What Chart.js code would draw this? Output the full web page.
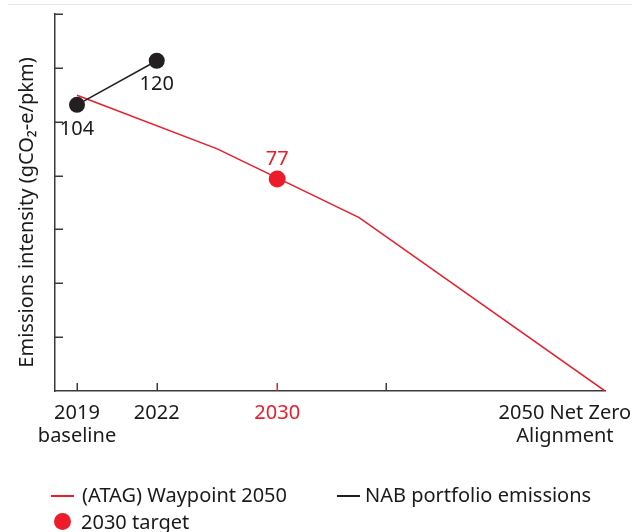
<!DOCTYPE html>
<html>
<head>
<meta charset="utf-8">
<script src="https://cdn.jsdelivr.net/npm/chart.js@4.4.1/dist/chart.umd.min.js"></script>
<style>
html,body{margin:0;padding:0;background:#fff;}
#wrap{position:relative;width:632px;height:532px;overflow:hidden;font-family:"Noto Sans", sans-serif;}
#topline{position:absolute;left:8px;right:0;top:4px;height:0;border-top:1px solid #e6e6e6;}
#chart{position:absolute;left:0;top:0;}
.leg{position:absolute;font-size:20px;color:#1a1a1a;white-space:nowrap;height:24px;line-height:24px;}
.leg .mk{position:absolute;}
</style>
</head>
<body>
<div id="wrap">
  <div id="topline"></div>
  <canvas id="chart" width="632" height="532"></canvas>
  <div id="legend"></div>
</div>
<script>
// ---- data ----
const xTickLabels = [['2019', 'baseline'], '2022', '2030', '', ['2050 Net Zero', 'Alignment']];
const xTickPositions = [4, 18.5, 40.4, 60.2, 92.7];      // position along the x axis (0-100)
const xTickMarkPositions = [4, 18.5, 40.4, 60.2];
const highlightedTick = '2030';

const atagLabel = '(ATAG) Waypoint 2050';
const atagPositions = [4, 29.5, 55.3, 100];
const atagValues = [107.5, 88, 63, 0];

const nabLabel = 'NAB portfolio emissions';
const nabPositions = [4, 18.5];
const nabValues = [104, 120];

const targetLabel = '2030 target';
const targetPositions = [40.4];
const targetValues = [77];

const yTitle = 'Emissions intensity (gCO\u2082-e/pkm)';
const yMin = 0, yMax = 137, yTickCount = 8;

// ---- style ----
const RED = '#ec1c2a';
const BLACK = '#231f20';
const TEXT = '#1a1a1a';
const AXIS = '#3a3a3a';
const FONT = '"Noto Sans", sans-serif';
const FS = 20;

const toXY = (xs, ys) => xs.map((x, i) => ({x: x, y: ys[i]}));

const customDraw = {
  id: 'customDraw',
  afterDatasetsDraw(chart) {
    const ctx = chart.ctx;
    const xs = chart.scales.x, ys = chart.scales.y;
    const area = chart.chartArea;
    ctx.save();
    // inward tick marks
    ctx.lineWidth = 1.5;
    ys.ticks.forEach(t => {
      if (t.value === yMin) return;
      const py = Math.round(ys.getPixelForValue(t.value)) + 0.25;
      ctx.strokeStyle = AXIS;
      ctx.beginPath(); ctx.moveTo(area.left, py); ctx.lineTo(area.left + 8, py); ctx.stroke();
    });
    xTickMarkPositions.forEach((v, i) => {
      const px = Math.round(xs.getPixelForValue(v)) + 0.25;
      ctx.strokeStyle = (xTickLabels[i] === highlightedTick) ? RED : AXIS;
      ctx.beginPath(); ctx.moveTo(px, area.bottom); ctx.lineTo(px, area.bottom - 8); ctx.stroke();
    });
    // data labels
    ctx.font = FS + 'px ' + FONT;
    ctx.textAlign = 'center';
    ctx.textBaseline = 'middle';
    chart.data.datasets.forEach((ds, di) => {
      const meta = chart.getDatasetMeta(di);
      if (!ds.valueLabel) return;
      meta.data.forEach((pt, i) => {
        ctx.fillStyle = ds.valueLabel.color;
        ctx.fillText(String(ds.data[i].y), pt.x, pt.y + ds.valueLabel.offset);
      });
    });
    // y axis title
    ctx.save();
    ctx.translate(27, (area.top + area.bottom) / 2 + 10);
    ctx.rotate(-Math.PI / 2);
    ctx.fillStyle = TEXT;
    ctx.fillText(yTitle, 0, 0);
    ctx.restore();
    ctx.restore();
  }
};

const chart = new Chart(document.getElementById('chart'), {
  type: 'line',
  data: {
    datasets: [
      {
        label: targetLabel,
        data: toXY(targetPositions, targetValues),
        showLine: false,
        pointRadius: 8.5,
        pointBackgroundColor: RED,
        pointBorderWidth: 0,
        borderColor: RED,
        order: 0,
        valueLabel: {color: RED, offset: -20}
      },
      {
        label: nabLabel,
        data: toXY(nabPositions, nabValues),
        borderColor: BLACK,
        borderWidth: 1.5,
        pointRadius: 8,
        pointBackgroundColor: BLACK,
        pointBorderWidth: 0,
        order: 1,
        valueLabel: {color: TEXT, offset: 24}
      },
      {
        label: atagLabel,
        data: toXY(atagPositions, atagValues),
        borderColor: RED,
        borderWidth: 1.5,
        pointRadius: 0,
        order: 2
      }
    ]
  },
  options: {
    responsive: false,
    animation: false,
    events: [],
    layout: {padding: {left: 45, right: 27, top: 14, bottom: 81}},
    plugins: {legend: {display: false}, tooltip: {enabled: false}},
    scales: {
      x: {
        type: 'linear',
        min: 0, max: 100,
        grid: {display: false},
        border: {display: true, color: AXIS, width: 1.5},
        afterBuildTicks: s => { s.ticks = xTickPositions.map(v => ({value: v})); },
        afterFit: s => { s.height = 60; s.paddingLeft = 0; s.paddingRight = 0; },
        ticks: {
          autoSkip: false,
          maxRotation: 0,
          padding: 3,
          font: {family: FONT, size: FS, lineHeight: 1.15},
          color: c => (xTickLabels[c.index] === highlightedTick ? RED : TEXT),
          callback: (v, i) => xTickLabels[i]
        }
      },
      y: {
        type: 'linear',
        min: yMin, max: yMax,
        grid: {display: false},
        border: {display: true, color: AXIS, width: 1.5},
        afterBuildTicks: s => {
          const t = [];
          for (let i = 0; i < yTickCount; i++) t.push({value: yMin + (yMax - yMin) * i / (yTickCount - 1)});
          s.ticks = t;
        },
        afterFit: s => { s.width = 10; s.paddingTop = 0; s.paddingBottom = 0; },
        ticks: {display: false}
      }
    }
  },
  plugins: [customDraw]
});

// ---- HTML legend ----
const legendItems = [
  {text: atagLabel, color: RED, kind: 'line', left: 51, top: 483, textLeft: 31},
  {text: nabLabel, color: BLACK, kind: 'line', left: 337, top: 483, textLeft: 28},
  {text: targetLabel, color: RED, kind: 'dot', left: 54, top: 510, textLeft: 27}
];
const legend = document.getElementById('legend');
legendItems.forEach(it => {
  const d = document.createElement('div');
  d.className = 'leg';
  d.style.left = it.left + 'px';
  d.style.top = it.top + 'px';
  const mk = document.createElement('span');
  mk.className = 'mk';
  if (it.kind === 'line') {
    mk.style.cssText = 'left:0;top:12px;width:23px;height:1.5px;background:' + it.color;
  } else {
    mk.style.cssText = 'left:0;top:3px;width:17px;height:17px;border-radius:50%;background:' + it.color;
  }
  const tx = document.createElement('span');
  tx.style.cssText = 'position:absolute;left:' + it.textLeft + 'px;top:0;';
  tx.textContent = it.text;
  d.appendChild(mk); d.appendChild(tx);
  legend.appendChild(d);
});
</script>
</body>
</html>
